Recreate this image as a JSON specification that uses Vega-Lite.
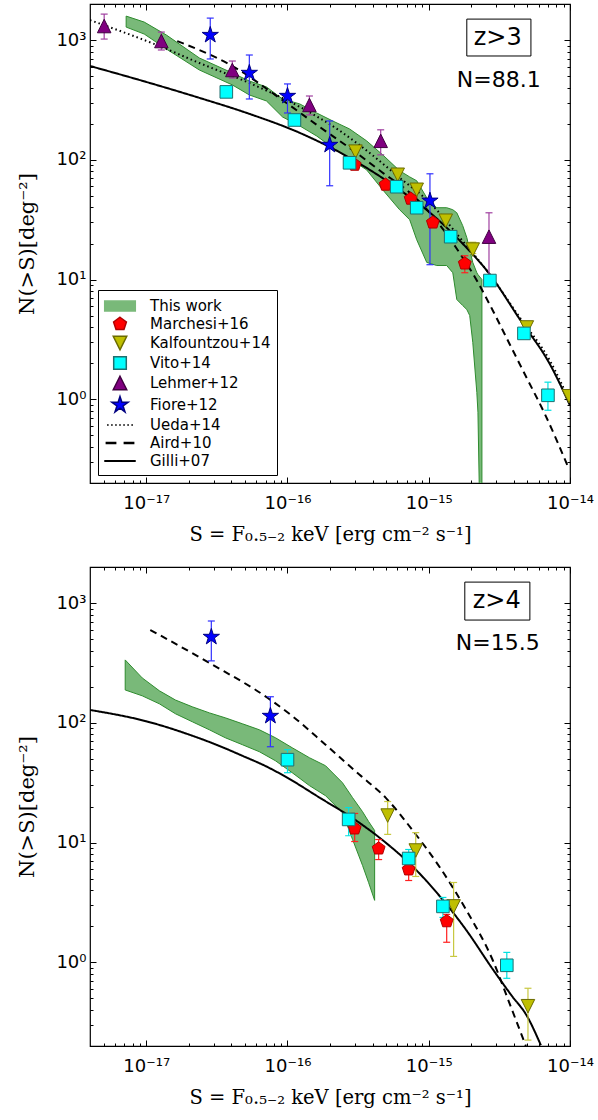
{
"$schema":"https://vega.github.io/schema/vega-lite/v6.json",
"background":"white",
"padding":{"left":16,"top":2,"right":0,"bottom":0},
"spacing":20,
"config":{
 "view":{"stroke":"#000","strokeWidth":1.2},
 "axis":{"grid":false,"domain":false,"tickColor":"#000","tickWidth":1,"labelFont":"DejaVu Sans","labelFontSize":18,"labelColor":"#000","titleFont":"DejaVu Serif","titleFontSize":19.5,"titleFontWeight":"normal","titleColor":"#000","labelFlush":false,"labelOverlap":false}
},
"resolve":{"scale":{"fill":"independent","stroke":"independent","shape":"independent","color":"independent","strokeDash":"independent"},"legend":{"fill":"independent","stroke":"independent","shape":"independent","color":"independent","strokeDash":"independent"}},
"datasets":{
 "band3":[
  {"S":7.21e-18,"N":1283,"N2":1585},{"S":9.68e-18,"N":1122,"N2":1413},{"S":1.39e-17,"N":841,"N2":1101},{"S":2.38e-17,"N":562,"N2":708},{"S":4.07e-17,"N":422,"N2":531},{"S":5.37e-17,"N":348,"N2":455},{"S":7.10e-17,"N":310,"N2":406},{"S":9.22e-17,"N":228,"N2":322},{"S":1.22e-16,"N":192,"N2":293},{"S":1.61e-16,"N":158,"N2":246},{"S":2.09e-16,"N":126,"N2":211},{"S":2.75e-16,"N":102,"N2":181},{"S":3.63e-16,"N":82.5,"N2":144},{"S":4.72e-16,"N":56.2,"N2":110},{"S":6.22e-16,"N":38.3,"N2":81},{"S":7.33e-16,"N":31.6,"N2":72},{"S":8.22e-16,"N":21.5,"N2":66.8},{"S":9.68e-16,"N":13.9,"N2":48.2},{"S":1.14e-15,"N":13.1,"N2":39.8},{"S":1.34e-15,"N":13.1,"N2":39.8},{"S":1.48e-15,"N":11.4,"N2":38.3},{"S":1.58e-15,"N":6.81,"N2":36.1},{"S":1.74e-15,"N":6.07,"N2":28.2},{"S":1.86e-15,"N":5.62,"N2":22.4},{"S":1.95e-15,"N":5.01,"N2":17.8},{"S":2.05e-15,"N":2.99,"N2":13.9},{"S":2.19e-15,"N":1.14,"N2":11.4},{"S":2.23e-15,"N":0.78,"N2":11.0},{"S":2.38e-15,"N":0.01,"N2":10}
 ],
 "band4":[
  {"S":7.10e-18,"N":188,"N2":335},{"S":9.37e-18,"N":168,"N2":237},{"S":1.24e-17,"N":144,"N2":185},{"S":1.61e-17,"N":119,"N2":155},{"S":2.12e-17,"N":102,"N2":136},{"S":2.80e-17,"N":87.4,"N2":121},{"S":3.63e-17,"N":75,"N2":110},{"S":4.80e-17,"N":65.6,"N2":98.1},{"S":6.33e-17,"N":57.3,"N2":87.4},{"S":8.22e-17,"N":48.2,"N2":75},{"S":1.08e-16,"N":38.3,"N2":61.9},{"S":1.43e-16,"N":29.9,"N2":51.1},{"S":1.86e-16,"N":24.6,"N2":43.8},{"S":2.45e-16,"N":17.8,"N2":31.6},{"S":2.89e-16,"N":10.6,"N2":23.7},{"S":3.40e-16,"N":6.43,"N2":18.1},{"S":3.75e-16,"N":4.64,"N2":15.0},{"S":4.14e-16,"N":3.29,"N2":12.6}
 ],
 "lines3":[
  {"series":"Ueda+14","S":4.0e-18,"N":1468},{"series":"Ueda+14","S":1.24e-17,"N":891},{"series":"Ueda+14","S":2.38e-17,"N":643},{"series":"Ueda+14","S":5.37e-17,"N":438},{"series":"Ueda+14","S":1.22e-16,"N":277},{"series":"Ueda+14","S":2.34e-16,"N":175},{"series":"Ueda+14","S":3.82e-16,"N":114},{"series":"Ueda+14","S":6.22e-16,"N":70.8},{"series":"Ueda+14","S":1.02e-15,"N":43.8},{"series":"Ueda+14","S":1.66e-15,"N":22.4},{"series":"Ueda+14","S":2.71e-15,"N":11.0},{"series":"Ueda+14","S":4.42e-15,"N":4.8},{"series":"Ueda+14","S":7.21e-15,"N":2.1},{"series":"Ueda+14","S":1e-14,"N":0.95},
  {"series":"Aird+10","S":1.66e-17,"N":981},{"series":"Aird+10","S":4.07e-17,"N":607},{"series":"Aird+10","S":9.84e-17,"N":298},{"series":"Aird+10","S":1.69e-16,"N":188},{"series":"Aird+10","S":3.09e-16,"N":114},{"series":"Aird+10","S":4.72e-16,"N":78},{"series":"Aird+10","S":6.98e-16,"N":56},{"series":"Aird+10","S":1.02e-15,"N":36},{"series":"Aird+10","S":1.58e-15,"N":18.1},{"series":"Aird+10","S":2.19e-15,"N":9.81},{"series":"Aird+10","S":2.84e-15,"N":5.52},{"series":"Aird+10","S":3.75e-15,"N":2.87},{"series":"Aird+10","S":4.95e-15,"N":1.5},{"series":"Aird+10","S":6.65e-15,"N":0.75},{"series":"Aird+10","S":9.84e-15,"N":0.261},
  {"series":"Gilli+07","S":4.0e-18,"N":607},{"series":"Gilli+07","S":1e-17,"N":447},{"series":"Gilli+07","S":2.38e-17,"N":329},{"series":"Gilli+07","S":5.37e-17,"N":242},{"series":"Gilli+07","S":1.22e-16,"N":168},{"series":"Gilli+07","S":2.75e-16,"N":104},{"series":"Gilli+07","S":6.22e-16,"N":56.2},{"series":"Gilli+07","S":1.02e-15,"N":36.2},{"series":"Gilli+07","S":1.66e-15,"N":21.1},{"series":"Gilli+07","S":2.71e-15,"N":11.0},{"series":"Gilli+07","S":4.42e-15,"N":4.64},{"series":"Gilli+07","S":7.21e-15,"N":1.96},{"series":"Gilli+07","S":1e-14,"N":0.89}
 ],
 "lines4":[
  {"series":"Aird+10","S":1.07e-17,"N":596},{"series":"Aird+10","S":2.80e-17,"N":316},{"series":"Aird+10","S":7.21e-17,"N":162},{"series":"Aird+10","S":1.08e-16,"N":114},{"series":"Aird+10","S":1.86e-16,"N":65.6},{"series":"Aird+10","S":3.24e-16,"N":36.8},{"series":"Aird+10","S":4.95e-16,"N":23.7},{"series":"Aird+10","S":7.71e-16,"N":12.6},{"series":"Aird+10","S":1.20e-15,"N":6.19},{"series":"Aird+10","S":1.83e-15,"N":2.77},{"series":"Aird+10","S":2.84e-15,"N":1.04},{"series":"Aird+10","S":3.75e-15,"N":0.447},{"series":"Aird+10","S":4.87e-15,"N":0.2},
  {"series":"Gilli+07","S":4.0e-18,"N":128},{"series":"Gilli+07","S":1e-17,"N":103},{"series":"Gilli+07","S":2.12e-17,"N":78},{"series":"Gilli+07","S":3.2e-17,"N":65},{"series":"Gilli+07","S":4.80e-17,"N":53},{"series":"Gilli+07","S":7.0e-17,"N":43.5},{"series":"Gilli+07","S":9.68e-17,"N":35.5},{"series":"Gilli+07","S":1.69e-16,"N":23.7},{"series":"Gilli+07","S":2.89e-16,"N":16.0},{"series":"Gilli+07","S":4.95e-16,"N":10.0},{"series":"Gilli+07","S":7.71e-16,"N":6.3},{"series":"Gilli+07","S":1.20e-15,"N":3.55},{"series":"Gilli+07","S":1.83e-15,"N":1.88},{"series":"Gilli+07","S":2.84e-15,"N":0.875},{"series":"Gilli+07","S":3.94e-15,"N":0.511},{"series":"Gilli+07","S":4.87e-15,"N":0.369},{"series":"Gilli+07","S":6.22e-15,"N":0.203}
 ],
 "pts3":[
  {"series":"Marchesi+16","S":2.99e-16,"N":90.8},{"series":"Marchesi+16","S":4.95e-16,"N":61.9},{"series":"Marchesi+16","S":7.45e-16,"N":47.3},{"series":"Marchesi+16","S":1.07e-15,"N":29.9},{"series":"Marchesi+16","S":1.80e-15,"N":13.6},
  {"series":"Kalfountzou+14","S":3.03e-16,"N":117},{"series":"Kalfountzou+14","S":6.03e-16,"N":75},{"series":"Kalfountzou+14","S":8.22e-16,"N":56.2},{"series":"Kalfountzou+14","S":1.32e-15,"N":31},{"series":"Kalfountzou+14","S":2.05e-15,"N":17.8},{"series":"Kalfountzou+14","S":4.95e-15,"N":3.98},{"series":"Kalfountzou+14","S":9.84e-15,"N":1.06},
  {"series":"Vito+14","S":3.69e-17,"N":369},{"series":"Vito+14","S":1.12e-16,"N":215},{"series":"Vito+14","S":2.75e-16,"N":94.4},{"series":"Vito+14","S":5.93e-16,"N":59.6},{"series":"Vito+14","S":8.22e-16,"N":39.8},{"series":"Vito+14","S":1.43e-15,"N":22.8},{"series":"Vito+14","S":2.71e-15,"N":9.81},{"series":"Vito+14","S":4.72e-15,"N":3.55},{"series":"Vito+14","S":6.98e-15,"N":1.08},
  {"series":"Lehmer+12","S":5.04e-18,"N":1309},{"series":"Lehmer+12","S":1.28e-17,"N":981},{"series":"Lehmer+12","S":4.07e-17,"N":562},{"series":"Lehmer+12","S":1.43e-16,"N":287},{"series":"Lehmer+12","S":4.57e-16,"N":144},{"series":"Lehmer+12","S":2.67e-15,"N":22.8},
  {"series":"Fiore+12","S":2.84e-17,"N":1101},{"series":"Fiore+12","S":5.37e-17,"N":531},{"series":"Fiore+12","S":1.0e-16,"N":341},{"series":"Fiore+12","S":1.99e-16,"N":133},{"series":"Fiore+12","S":1.02e-15,"N":45.5}
 ],
 "err3":[
  {"series":"Marchesi+16","S":1.80e-15,"N":11.4,"N2":15.8},
  {"series":"Kalfountzou+14","S":2.05e-15,"N":16.5,"N2":20.5},
  {"series":"Vito+14","S":6.98e-15,"N":0.81,"N2":1.39},
  {"series":"Lehmer+12","S":5.04e-18,"N":1019,"N2":1647},{"series":"Lehmer+12","S":1.28e-17,"N":826,"N2":1166},{"series":"Lehmer+12","S":4.07e-17,"N":482,"N2":668},{"series":"Lehmer+12","S":1.43e-16,"N":237,"N2":341},{"series":"Lehmer+12","S":4.57e-16,"N":110,"N2":178},{"series":"Lehmer+12","S":2.67e-15,"N":10.8,"N2":36.1},
  {"series":"Fiore+12","S":2.84e-17,"N":695,"N2":1525},{"series":"Fiore+12","S":5.37e-17,"N":322,"N2":750},{"series":"Fiore+12","S":1.0e-16,"N":246,"N2":430},{"series":"Fiore+12","S":1.99e-16,"N":60.7,"N2":211},{"series":"Fiore+12","S":1.02e-15,"N":13.3,"N2":76.4}
 ],
 "pts4":[
  {"series":"Marchesi+16","S":2.99e-16,"N":13.1},{"series":"Marchesi+16","S":4.42e-16,"N":8.91},{"series":"Marchesi+16","S":7.21e-16,"N":5.96},{"series":"Marchesi+16","S":1.34e-15,"N":2.2},
  {"series":"Kalfountzou+14","S":5.12e-16,"N":16.8},{"series":"Kalfountzou+14","S":8.09e-16,"N":8.58},{"series":"Kalfountzou+14","S":1.50e-15,"N":2.93},{"series":"Kalfountzou+14","S":5.04e-15,"N":0.43},
  {"series":"Vito+14","S":1.0e-16,"N":49.2},{"series":"Vito+14","S":2.71e-16,"N":15.6},{"series":"Vito+14","S":7.21e-16,"N":7.36},{"series":"Vito+14","S":1.26e-15,"N":2.93},{"series":"Vito+14","S":3.57e-15,"N":0.944},
  {"series":"Fiore+12","S":2.89e-17,"N":521},{"series":"Fiore+12","S":7.57e-17,"N":114}
 ],
 "err4":[
  {"series":"Marchesi+16","S":2.99e-16,"N":10.2,"N2":17.5},{"series":"Marchesi+16","S":4.42e-16,"N":7.21,"N2":10.6},{"series":"Marchesi+16","S":7.21e-16,"N":4.82,"N2":6.56},{"series":"Marchesi+16","S":1.34e-15,"N":1.47,"N2":2.51},
  {"series":"Kalfountzou+14","S":5.12e-16,"N":11.7,"N2":22},{"series":"Kalfountzou+14","S":8.09e-16,"N":5.21,"N2":12.1},{"series":"Kalfountzou+14","S":1.50e-15,"N":1.12,"N2":4.64},{"series":"Kalfountzou+14","S":5.04e-15,"N":0.224,"N2":0.607},
  {"series":"Vito+14","S":1.0e-16,"N":38.3,"N2":59.6},{"series":"Vito+14","S":2.71e-16,"N":11.4,"N2":19.6},{"series":"Vito+14","S":7.21e-16,"N":6.19,"N2":8.75},{"series":"Vito+14","S":1.26e-15,"N":2.37,"N2":3.48},{"series":"Vito+14","S":3.57e-15,"N":0.735,"N2":1.21},
  {"series":"Fiore+12","S":2.89e-17,"N":329,"N2":708},{"series":"Fiore+12","S":7.57e-17,"N":63.1,"N2":165}
 ],
 "box3":[{"S":1.86e-15,"N":736,"S2":5.29e-15,"N2":1496}],
 "box4":[{"S":1.80e-15,"N":721,"S2":5.20e-15,"N2":1496}],
 "txt3":[{"S":3.08e-15,"N":1039,"label":"z>3","kind":"z"},{"S":3.13e-15,"N":464,"label":"N=88.1","kind":"n"}],
 "txt4":[{"S":3.03e-15,"N":1039,"label":"z>4","kind":"z"},{"S":3.08e-15,"N":464,"label":"N=15.5","kind":"n"}]
},
"vconcat":[
{
 "width":480,"height":479,
 "resolve":{"axis":{"x":"independent","y":"independent"}},
 "encoding":{
  "x":{"field":"S","type":"quantitative","scale":{"type":"log","domain":[4e-18,1e-14],"nice":false},"axis":null},
  "y":{"field":"N","type":"quantitative","scale":{"type":"log","domain":[0.2,2000],"nice":false},"axis":null}
 },
 "layer":[
  {"data":{"name":"band3"},"mark":{"type":"area","fill":"#79b979","stroke":"#2e8b2e","strokeWidth":1,"clip":true},
   "encoding":{
    "x":{"field":"S","type":"quantitative","scale":{"type":"log","domain":[4e-18,1e-14],"nice":false},"axis":{"orient":"bottom","values":[1e-17,1e-16,1e-15,1e-14],"tickSize":-6,"labelPadding":17,"labelExpr":"datum.value==1e-17?'10⁻¹⁷':datum.value==1e-16?'10⁻¹⁶':datum.value==1e-15?'10⁻¹⁵':datum.value==1e-14?'10⁻¹⁴':''","title":"S = F₀.₅₋₂ keV [erg cm⁻² s⁻¹]","titlePadding":13}},
    "y":{"field":"N","type":"quantitative","scale":{"type":"log","domain":[0.2,2000],"nice":false},"axis":{"orient":"left","values":[1,10,100,1000],"tickSize":-6,"labelPadding":10,"labelExpr":"datum.value==1000?'10³':datum.value==100?'10²':datum.value==10?'10¹':datum.value==1?'10⁰':''","title":"N(>S)[deg⁻²]","titlePadding":18,"titleFontSize":21}},
    "y2":{"field":"N2"}
   }},
  {"data":{"name":"lines3"},"mark":{"type":"line","stroke":"#000","strokeWidth":2,"clip":true,"interpolate":"monotone"},
   "encoding":{
    "x":{"field":"S","type":"quantitative","scale":{"type":"log","domain":[4e-18,1e-14],"nice":false},"axis":{"orient":"bottom","values":[5e-18,6e-18,7e-18,8e-18,9e-18,2e-17,3e-17,4e-17,5e-17,6e-17,7e-17,8e-17,9e-17,2e-16,3e-16,4e-16,5e-16,6e-16,7e-16,8e-16,9e-16,2e-15,3e-15,4e-15,5e-15,6e-15,7e-15,8e-15,9e-15],"tickSize":-3,"labels":false,"title":null}},
    "y":{"field":"N","type":"quantitative","scale":{"type":"log","domain":[0.2,2000],"nice":false},"axis":{"orient":"left","values":[0.3,0.4,0.5,0.6,0.7,0.8,0.9,2,3,4,5,6,7,8,9,20,30,40,50,60,70,80,90,200,300,400,500,600,700,800,900],"tickSize":-3,"labels":false,"title":null}},
    "strokeDash":{"field":"series","type":"nominal","scale":{"domain":["Ueda+14","Aird+10","Gilli+07"],"range":[[1.5,3],[7,5],[1,0]]},"legend":null}
   }},
  {"data":{"name":"err3"},"mark":{"type":"rule","strokeWidth":1.2},
   "encoding":{
    "x":{"field":"S","type":"quantitative","scale":{"type":"log","domain":[4e-18,1e-14],"nice":false},"axis":{"orient":"top","values":[1e-17,1e-16,1e-15,1e-14],"tickSize":-6,"labels":false,"title":null}},
    "y":{"field":"N","type":"quantitative","scale":{"type":"log","domain":[0.2,2000],"nice":false},"axis":{"orient":"right","values":[1,10,100,1000],"tickSize":-6,"labels":false,"title":null}},
    "y2":{"field":"N2"},
    "color":{"field":"series","type":"nominal","scale":{"domain":["Marchesi+16","Kalfountzou+14","Vito+14","Lehmer+12","Fiore+12"],"range":["#ff2020","#c8c840","#00e0e0","#a040a0","#3030ff"]},"legend":null}
   }},
  {"data":{"name":"err3"},"mark":{"type":"tick","orient":"horizontal","size":7,"thickness":1.2,"opacity":1},
   "encoding":{"color":{"field":"series","type":"nominal","scale":{"domain":["Marchesi+16","Kalfountzou+14","Vito+14","Lehmer+12","Fiore+12"],"range":["#ff2020","#c8c840","#00e0e0","#a040a0","#3030ff"]},"legend":null}}},
  {"data":{"name":"err3"},"mark":{"type":"tick","orient":"horizontal","size":7,"thickness":1.2,"opacity":1},
   "encoding":{"y":{"field":"N2","type":"quantitative","scale":{"type":"log","domain":[0.2,2000],"nice":false},"axis":null},"color":{"field":"series","type":"nominal","scale":{"domain":["Marchesi+16","Kalfountzou+14","Vito+14","Lehmer+12","Fiore+12"],"range":["#ff2020","#c8c840","#00e0e0","#a040a0","#3030ff"]},"legend":null}}},
  {"data":{"name":"pts3"},"mark":{"type":"point","filled":true,"opacity":1,"size":324,"strokeWidth":1,"clip":true},
   "encoding":{
    "x":{"field":"S","type":"quantitative","scale":{"type":"log","domain":[4e-18,1e-14],"nice":false},"axis":{"orient":"top","values":[5e-18,6e-18,7e-18,8e-18,9e-18,2e-17,3e-17,4e-17,5e-17,6e-17,7e-17,8e-17,9e-17,2e-16,3e-16,4e-16,5e-16,6e-16,7e-16,8e-16,9e-16,2e-15,3e-15,4e-15,5e-15,6e-15,7e-15,8e-15,9e-15],"tickSize":-3,"labels":false,"title":null}},
    "y":{"field":"N","type":"quantitative","scale":{"type":"log","domain":[0.2,2000],"nice":false},"axis":{"orient":"right","values":[0.3,0.4,0.5,0.6,0.7,0.8,0.9,2,3,4,5,6,7,8,9,20,30,40,50,60,70,80,90,200,300,400,500,600,700,800,900],"tickSize":-3,"labels":false,"title":null}},
    "fill":{"field":"series","type":"nominal","scale":{"domain":["This work","Marchesi+16","Kalfountzou+14","Vito+14","Lehmer+12","Fiore+12","Ueda+14","Aird+10","Gilli+07"],"range":["#79b979","#ff0000","#bfbf00","#00ffff","#800080","#0000ff","#000000","#000000","#000000"]},
      "legend":{"title":null,"orient":"bottom-left","offset":8,"padding":6,"strokeColor":"#000","fillColor":"#fff","labelFont":"DejaVu Sans","labelFontSize":15,"labelColor":"#000","symbolSize":324,"symbolOffset":6,"rowPadding":0,"labelOffset":20,"labelLimit":300}},
    "stroke":{"field":"series","type":"nominal","scale":{"domain":["This work","Marchesi+16","Kalfountzou+14","Vito+14","Lehmer+12","Fiore+12","Ueda+14","Aird+10","Gilli+07"],"range":["#79b979","#b00000","#6b6b00","#1f6f6f","#400040","#000080","transparent","transparent","transparent"]}},
    "shape":{"field":"series","type":"nominal","scale":{"domain":["This work","Marchesi+16","Kalfountzou+14","Vito+14","Lehmer+12","Fiore+12","Ueda+14","Aird+10","Gilli+07"],"range":["M-1.7,-0.55L1.7,-0.55L1.7,0.55L-1.7,0.55Z","M0,-0.75L0.713,-0.232L0.441,0.607L-0.441,0.607L-0.713,-0.232Z","M-0.75,-0.75L0.75,-0.75L0,0.75Z","M-0.7,-0.7L0.7,-0.7L0.7,0.7L-0.7,0.7Z","M0,-0.75L0.75,0.75L-0.75,0.75Z","M0,-0.95L0.213,-0.294L0.904,-0.294L0.345,0.112L0.558,0.769L0,0.363L-0.558,0.769L-0.345,0.112L-0.904,-0.294L-0.213,-0.294Z","M-1.44,-0.09h0.18v0.18h-0.18ZM-0.99,-0.09h0.18v0.18h-0.18ZM-0.54,-0.09h0.18v0.18h-0.18ZM-0.09,-0.09h0.18v0.18h-0.18ZM0.36,-0.09h0.18v0.18h-0.18ZM0.81,-0.09h0.18v0.18h-0.18ZM1.26,-0.09h0.18v0.18h-0.18Z","M-1.6,-0.13H-0.4V0.13H-1.6ZM0.4,-0.13H1.6V0.13H0.4Z","M-1.75,-0.11H1.75V0.11H-1.75Z"]}}
   }},
  {"data":{"name":"box3"},"mark":{"type":"rect","fill":"#fff","stroke":"#000","strokeWidth":1},"encoding":{"x2":{"field":"S2"},"y2":{"field":"N2"}}},
  {"data":{"name":"txt3"},"transform":[{"filter":"datum.kind==='z'"}],"mark":{"type":"text","font":"DejaVu Sans","fontSize":24,"color":"#000"},"encoding":{"text":{"field":"label"}}},
  {"data":{"name":"txt3"},"transform":[{"filter":"datum.kind==='n'"}],"mark":{"type":"text","font":"DejaVu Sans","fontSize":22,"color":"#000"},"encoding":{"text":{"field":"label"}}}
 ]
},
{
 "width":480,"height":479,
 "resolve":{"axis":{"x":"independent","y":"independent"}},
 "encoding":{
  "x":{"field":"S","type":"quantitative","scale":{"type":"log","domain":[4e-18,1e-14],"nice":false},"axis":null},
  "y":{"field":"N","type":"quantitative","scale":{"type":"log","domain":[0.2,2000],"nice":false},"axis":null}
 },
 "layer":[
  {"data":{"name":"band4"},"mark":{"type":"area","fill":"#79b979","stroke":"#2e8b2e","strokeWidth":1,"clip":true},
   "encoding":{
    "x":{"field":"S","type":"quantitative","scale":{"type":"log","domain":[4e-18,1e-14],"nice":false},"axis":{"orient":"bottom","values":[1e-17,1e-16,1e-15,1e-14],"tickSize":-6,"labelPadding":17,"labelExpr":"datum.value==1e-17?'10⁻¹⁷':datum.value==1e-16?'10⁻¹⁶':datum.value==1e-15?'10⁻¹⁵':datum.value==1e-14?'10⁻¹⁴':''","title":"S = F₀.₅₋₂ keV [erg cm⁻² s⁻¹]","titlePadding":13}},
    "y":{"field":"N","type":"quantitative","scale":{"type":"log","domain":[0.2,2000],"nice":false},"axis":{"orient":"left","values":[1,10,100,1000],"tickSize":-6,"labelPadding":10,"labelExpr":"datum.value==1000?'10³':datum.value==100?'10²':datum.value==10?'10¹':datum.value==1?'10⁰':''","title":"N(>S)[deg⁻²]","titlePadding":18,"titleFontSize":21}},
    "y2":{"field":"N2"}
   }},
  {"data":{"name":"lines4"},"mark":{"type":"line","stroke":"#000","strokeWidth":2,"clip":true,"interpolate":"monotone"},
   "encoding":{
    "x":{"field":"S","type":"quantitative","scale":{"type":"log","domain":[4e-18,1e-14],"nice":false},"axis":{"orient":"bottom","values":[5e-18,6e-18,7e-18,8e-18,9e-18,2e-17,3e-17,4e-17,5e-17,6e-17,7e-17,8e-17,9e-17,2e-16,3e-16,4e-16,5e-16,6e-16,7e-16,8e-16,9e-16,2e-15,3e-15,4e-15,5e-15,6e-15,7e-15,8e-15,9e-15],"tickSize":-3,"labels":false,"title":null}},
    "y":{"field":"N","type":"quantitative","scale":{"type":"log","domain":[0.2,2000],"nice":false},"axis":{"orient":"left","values":[0.3,0.4,0.5,0.6,0.7,0.8,0.9,2,3,4,5,6,7,8,9,20,30,40,50,60,70,80,90,200,300,400,500,600,700,800,900],"tickSize":-3,"labels":false,"title":null}},
    "strokeDash":{"field":"series","type":"nominal","scale":{"domain":["Ueda+14","Aird+10","Gilli+07"],"range":[[1.5,3],[7,5],[1,0]]},"legend":null}
   }},
  {"data":{"name":"err4"},"mark":{"type":"rule","strokeWidth":1.2},
   "encoding":{
    "x":{"field":"S","type":"quantitative","scale":{"type":"log","domain":[4e-18,1e-14],"nice":false},"axis":{"orient":"top","values":[1e-17,1e-16,1e-15,1e-14],"tickSize":-6,"labels":false,"title":null}},
    "y":{"field":"N","type":"quantitative","scale":{"type":"log","domain":[0.2,2000],"nice":false},"axis":{"orient":"right","values":[1,10,100,1000],"tickSize":-6,"labels":false,"title":null}},
    "y2":{"field":"N2"},
    "color":{"field":"series","type":"nominal","scale":{"domain":["Marchesi+16","Kalfountzou+14","Vito+14","Lehmer+12","Fiore+12"],"range":["#ff2020","#c8c840","#00e0e0","#a040a0","#3030ff"]},"legend":null}
   }},
  {"data":{"name":"err4"},"mark":{"type":"tick","orient":"horizontal","size":7,"thickness":1.2,"opacity":1},
   "encoding":{"color":{"field":"series","type":"nominal","scale":{"domain":["Marchesi+16","Kalfountzou+14","Vito+14","Lehmer+12","Fiore+12"],"range":["#ff2020","#c8c840","#00e0e0","#a040a0","#3030ff"]},"legend":null}}},
  {"data":{"name":"err4"},"mark":{"type":"tick","orient":"horizontal","size":7,"thickness":1.2,"opacity":1},
   "encoding":{"y":{"field":"N2","type":"quantitative","scale":{"type":"log","domain":[0.2,2000],"nice":false},"axis":null},"color":{"field":"series","type":"nominal","scale":{"domain":["Marchesi+16","Kalfountzou+14","Vito+14","Lehmer+12","Fiore+12"],"range":["#ff2020","#c8c840","#00e0e0","#a040a0","#3030ff"]},"legend":null}}},
  {"data":{"name":"pts4"},"mark":{"type":"point","filled":true,"opacity":1,"size":324,"strokeWidth":1,"clip":true},
   "encoding":{
    "x":{"field":"S","type":"quantitative","scale":{"type":"log","domain":[4e-18,1e-14],"nice":false},"axis":{"orient":"top","values":[5e-18,6e-18,7e-18,8e-18,9e-18,2e-17,3e-17,4e-17,5e-17,6e-17,7e-17,8e-17,9e-17,2e-16,3e-16,4e-16,5e-16,6e-16,7e-16,8e-16,9e-16,2e-15,3e-15,4e-15,5e-15,6e-15,7e-15,8e-15,9e-15],"tickSize":-3,"labels":false,"title":null}},
    "y":{"field":"N","type":"quantitative","scale":{"type":"log","domain":[0.2,2000],"nice":false},"axis":{"orient":"right","values":[0.3,0.4,0.5,0.6,0.7,0.8,0.9,2,3,4,5,6,7,8,9,20,30,40,50,60,70,80,90,200,300,400,500,600,700,800,900],"tickSize":-3,"labels":false,"title":null}},
    "fill":{"field":"series","type":"nominal","scale":{"domain":["This work","Marchesi+16","Kalfountzou+14","Vito+14","Lehmer+12","Fiore+12","Ueda+14","Aird+10","Gilli+07"],"range":["#79b979","#ff0000","#bfbf00","#00ffff","#800080","#0000ff","#000000","#000000","#000000"]},"legend":null},
    "stroke":{"field":"series","type":"nominal","scale":{"domain":["This work","Marchesi+16","Kalfountzou+14","Vito+14","Lehmer+12","Fiore+12","Ueda+14","Aird+10","Gilli+07"],"range":["#79b979","#b00000","#6b6b00","#1f6f6f","#400040","#000080","transparent","transparent","transparent"]},"legend":null},
    "shape":{"field":"series","type":"nominal","scale":{"domain":["This work","Marchesi+16","Kalfountzou+14","Vito+14","Lehmer+12","Fiore+12","Ueda+14","Aird+10","Gilli+07"],"range":["M-1.7,-0.55L1.7,-0.55L1.7,0.55L-1.7,0.55Z","M0,-0.75L0.713,-0.232L0.441,0.607L-0.441,0.607L-0.713,-0.232Z","M-0.75,-0.75L0.75,-0.75L0,0.75Z","M-0.7,-0.7L0.7,-0.7L0.7,0.7L-0.7,0.7Z","M0,-0.75L0.75,0.75L-0.75,0.75Z","M0,-0.95L0.213,-0.294L0.904,-0.294L0.345,0.112L0.558,0.769L0,0.363L-0.558,0.769L-0.345,0.112L-0.904,-0.294L-0.213,-0.294Z","M-1.44,-0.09h0.18v0.18h-0.18ZM-0.99,-0.09h0.18v0.18h-0.18ZM-0.54,-0.09h0.18v0.18h-0.18ZM-0.09,-0.09h0.18v0.18h-0.18ZM0.36,-0.09h0.18v0.18h-0.18ZM0.81,-0.09h0.18v0.18h-0.18ZM1.26,-0.09h0.18v0.18h-0.18Z","M-1.6,-0.13H-0.4V0.13H-1.6ZM0.4,-0.13H1.6V0.13H0.4Z","M-1.75,-0.11H1.75V0.11H-1.75Z"]},"legend":null}
   }},
  {"data":{"name":"box4"},"mark":{"type":"rect","fill":"#fff","stroke":"#000","strokeWidth":1},"encoding":{"x2":{"field":"S2"},"y2":{"field":"N2"}}},
  {"data":{"name":"txt4"},"transform":[{"filter":"datum.kind==='z'"}],"mark":{"type":"text","font":"DejaVu Sans","fontSize":24,"color":"#000"},"encoding":{"text":{"field":"label"}}},
  {"data":{"name":"txt4"},"transform":[{"filter":"datum.kind==='n'"}],"mark":{"type":"text","font":"DejaVu Sans","fontSize":22,"color":"#000"},"encoding":{"text":{"field":"label"}}}
 ]
}
]
}
